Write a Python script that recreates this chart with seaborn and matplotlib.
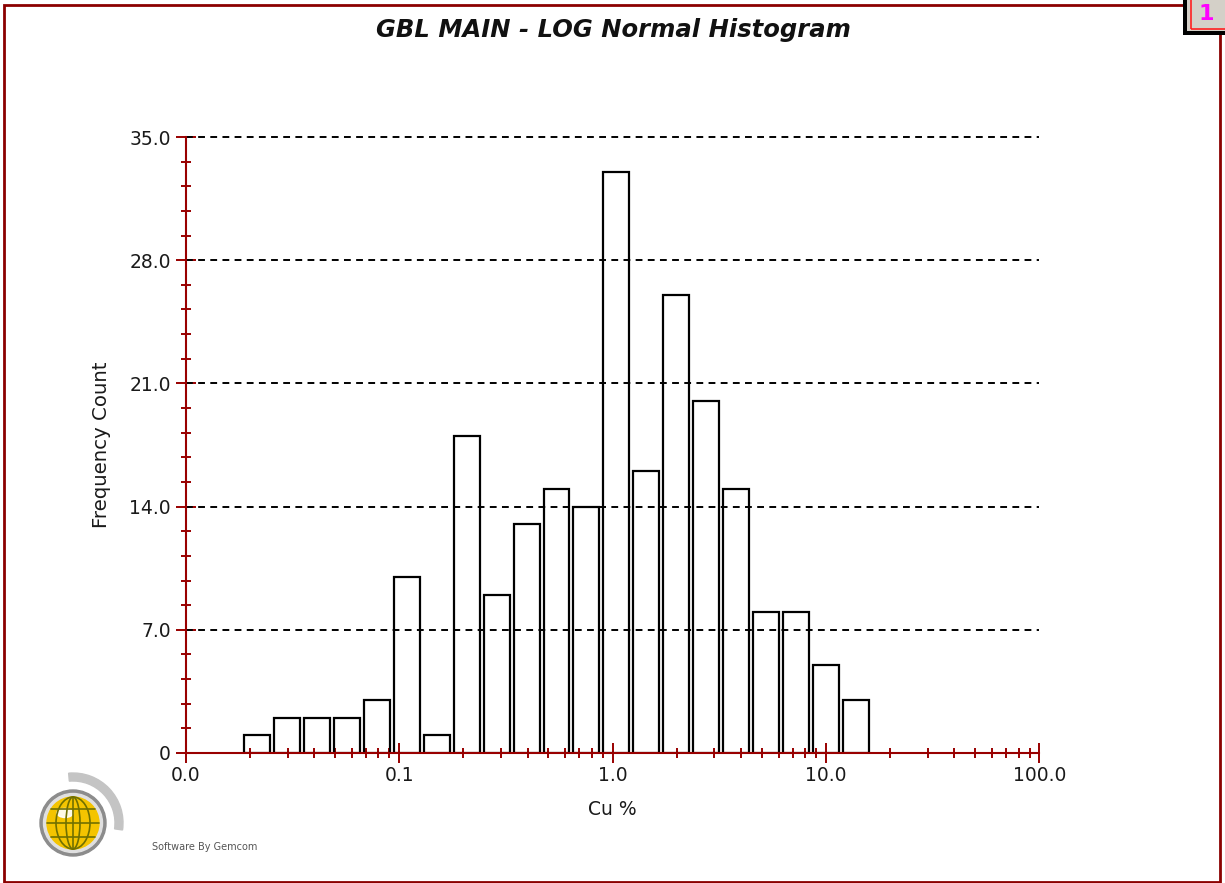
import numpy as np
import pandas as pd
import matplotlib
matplotlib.use("Agg")
import matplotlib.pyplot as plt
import seaborn as sns
from matplotlib.ticker import FixedLocator, MultipleLocator, LogLocator, NullFormatter
from matplotlib.patches import Rectangle, Circle, Wedge, Ellipse

# ---- data ----
counts = [1, 2, 2, 2, 3, 10, 1, 18, 9, 13, 15, 14, 33, 16, 26, 20, 15, 8, 8, 5, 3]
log_bin_start = -1.737      # log10 of first bin edge
log_bin_width = 0.1403      # bin width in decades
y_ticks = [0, 7, 14, 21, 28, 35]
y_tick_labels = ["0", "7.0", "14.0", "21.0", "28.0", "35.0"]
x_ticks = [0.01, 0.1, 1, 10, 100]
x_tick_labels = ["0.0", "0.1", "1.0", "10.0", "100.0"]
title = "GBL MAIN - LOG Normal Histogram"
xlabel = "Cu %"
ylabel = "Frequency Count"

edges_log = log_bin_start + log_bin_width * np.arange(len(counts) + 1)
centers = 10 ** ((edges_log[:-1] + edges_log[1:]) / 2)
df = pd.DataFrame({"cu": centers, "count": counts})

sns.set_style("white")
plt.rcParams['font.family'] = ['DejaVu Sans']

W, H = 1225, 883
fig = plt.figure(figsize=(W / 100, H / 100), dpi=100)
ax = fig.add_axes([185.7 / W, (H - 753) / H, (1039.3 - 185.7) / W, (753 - 137) / H])

sns.histplot(data=df, x="cu", weights="count", bins=list(edges_log), log_scale=True,
             shrink=0.868, fill=False, color="black", linewidth=1.6, ax=ax)

ax.set_xlim(0.01, 100)
ax.set_ylim(0, 35)

red = "#990000"
ax.xaxis.set_major_locator(FixedLocator(x_ticks))
ax.set_xticklabels(x_tick_labels)
ax.xaxis.set_minor_locator(LogLocator(base=10, subs=np.arange(2, 10)))
ax.xaxis.set_minor_formatter(NullFormatter())
ax.set_yticks(y_ticks)
ax.set_yticklabels(y_tick_labels)
ax.yaxis.set_minor_locator(MultipleLocator(1.4))

ax.tick_params(which="both", bottom=True, left=True, direction="inout", color=red,
               width=1.4, labelcolor="#1a1a1a")
ax.tick_params(which="major", length=14.4, labelsize=13.5)
ax.tick_params(axis="y", which="major", pad=3.5)
ax.tick_params(axis="x", which="major", pad=2)
ax.tick_params(which="minor", length=7.2)

for s in ["top", "right"]:
    ax.spines[s].set_visible(False)
for s in ["left", "bottom"]:
    ax.spines[s].set_color(red)
    ax.spines[s].set_linewidth(1.5)
    ax.spines[s].set_zorder(4)

for yv in y_ticks[1:]:
    ax.axhline(yv, color="black", lw=1.4, ls=(0, (3.5, 2.75)), zorder=3, clip_on=False)

ax.set_xlabel(xlabel, fontsize=13.5, color="#1a1a1a")
ax.set_ylabel(ylabel, fontsize=14.2, color="#1a1a1a")
ax.xaxis.label.set_va("center")
ax.xaxis.set_label_coords(0.5, -(809.5 - 753) / 616)
ax.yaxis.label.set_va("center")
ax.yaxis.set_label_coords(-(185.7 - 101) / 853.6, 0.5)

fig.text(613 / W, 1 - 30 / H, title, ha="center", va="center", fontsize=17.5,
         fontweight="bold", fontstyle="italic", color="#111111")

# figure border
fig.patches.append(Rectangle((3.5 / W, 1.5 / H), (1220 - 3.5) / W, (878.5 - 1.5) / H,
                             transform=fig.transFigure, fill=False,
                             edgecolor="#8b0000", lw=2, zorder=0))
# top-right page box
fig.patches.append(Rectangle((1183 / W, 1 - 35 / H), 42 / W, 36 / H,
                             transform=fig.transFigure, facecolor="black",
                             edgecolor="none", zorder=5))
fig.patches.append(Rectangle((1187 / W, 1 - 31 / H), 40 / W, 32 / H,
                             transform=fig.transFigure, facecolor="#d4d0c8",
                             edgecolor="none", zorder=6))
fig.patches.append(Rectangle((1190.5 / W, 1 - 28.5 / H), 40 / W, 40 / H,
                             transform=fig.transFigure, facecolor="none",
                             edgecolor="#ff2020", lw=1.2, zorder=7))
fig.text(1206 / W, 1 - 14 / H, "1", ha="center", va="center", fontsize=16,
         fontweight="bold", color="#ff00ff", zorder=8)

# logo
lax = fig.add_axes([20 / W, (H - 875) / H, 120 / W, 120 / H])
lax.set_xlim(20, 140)
lax.set_ylim(H - 875, H - 755)
lax.set_aspect("equal")
lax.axis("off")
cx, cy = 73, H - 823
lax.add_patch(Wedge((cx, cy), 50, -8, 95, width=8, color="#c4c4c4"))
lax.add_patch(Circle((cx, cy), 33, color="#8c8c8c"))
lax.add_patch(Circle((cx, cy), 29.5, color="#e0e0e0"))
lax.add_patch(Circle((cx, cy), 26, color="#f4c400"))
lax.add_patch(Ellipse((cx - 8, cy + 10), 16, 9, color="white", alpha=0.9))
for wdt in [14, 34]:
    lax.add_patch(Ellipse((cx, cy), wdt, 52, fill=False, edgecolor="#707000", lw=1.2))
lax.plot([cx, cx], [cy - 26, cy + 26], color="#707000", lw=1.2)
for dy in [-14, 0, 14]:
    hw = np.sqrt(26 ** 2 - dy ** 2)
    lax.plot([cx - hw, cx + hw], [cy + dy, cy + dy], color="#707000", lw=1.2)
fig.text(152 / W, 1 - 847 / H, "Software By Gemcom", fontsize=7, color="#555555",
         va="center", ha="left")

fig.savefig("out.png", dpi=100)
